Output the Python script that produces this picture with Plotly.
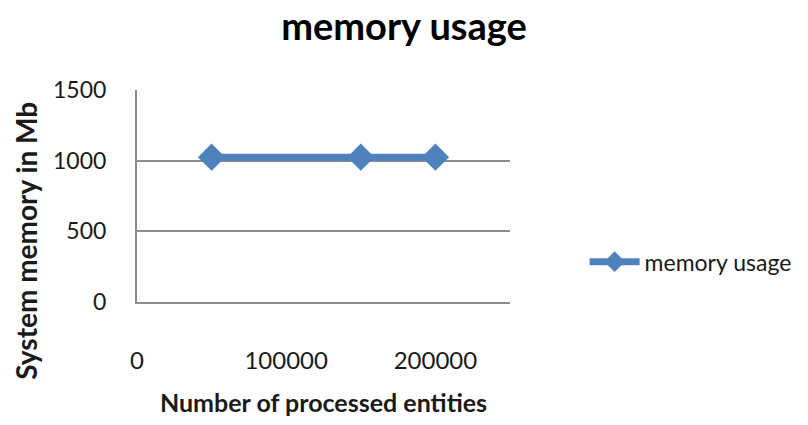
import plotly.graph_objects as go

# Memory usage measured at different workload sizes
entities = [50000, 150000, 200000]
memory_mb = [1025, 1025, 1025]

x_ticks = [0, 100000, 200000]
y_ticks = [0, 500, 1000, 1500]

FONT = "Lato, 'Open Sans', sans-serif"
BLUE = "#4F81BD"
GRID = "#8C8C8C"

fig = go.Figure()
fig.add_trace(go.Scatter(
    x=entities,
    y=memory_mb,
    mode="lines+markers",
    name="memory usage",
    line=dict(color=BLUE, width=7),
    marker=dict(symbol="diamond", size=21, color=BLUE),
))

fig.update_layout(
    width=808,
    height=425,
    margin=dict(l=137, r=296, t=90, b=123),
    paper_bgcolor="white",
    plot_bgcolor="white",
    font=dict(family=FONT, color="#1a1a1a", size=24),
    title=dict(
        text="<b>memory usage</b>",
        x=0.5,
        xanchor="center",
        y=0.937,
        yanchor="middle",
        font=dict(size=38, family=FONT, color="#000000"),
    ),
    showlegend=True,
    legend=dict(
        x=1.20,
        y=0.19,
        xanchor="left",
        yanchor="middle",
        font=dict(size=23, family=FONT, color="#1a1a1a"),
        itemwidth=50,
        bgcolor="rgba(0,0,0,0)",
    ),
    # Y-axis title placed as a rotated annotation, centred lower than the plot area
    annotations=[
        dict(
            text="<b>System memory in Mb</b>",
            textangle=-90,
            xref="paper",
            yref="paper",
            x=-0.298,
            y=0.288,
            xanchor="center",
            yanchor="middle",
            showarrow=False,
            font=dict(size=28, family=FONT, color="#1a1a1a"),
        )
    ],
)

fig.update_xaxes(
    range=[0, 250000],
    tickvals=x_ticks,
    ticktext=[str(v) for v in x_ticks],
    showgrid=False,
    zeroline=False,
    showline=True,
    linecolor=GRID,
    linewidth=2,
    ticks="",
    ticklabelstandoff=36,
    tickfont=dict(size=24),
    title=dict(text="<b>Number of processed entities</b>", font=dict(size=25), standoff=22),
    automargin=False,
)

fig.update_yaxes(
    range=[0, 1500],
    tickvals=y_ticks,
    showgrid=True,
    gridcolor=GRID,
    gridwidth=1.5,
    zeroline=False,
    showline=True,
    linecolor=GRID,
    linewidth=2,
    ticks="",
    ticklabelstandoff=24,
    tickfont=dict(size=23),
    automargin=False,
)

fig.write_html("out.html")
